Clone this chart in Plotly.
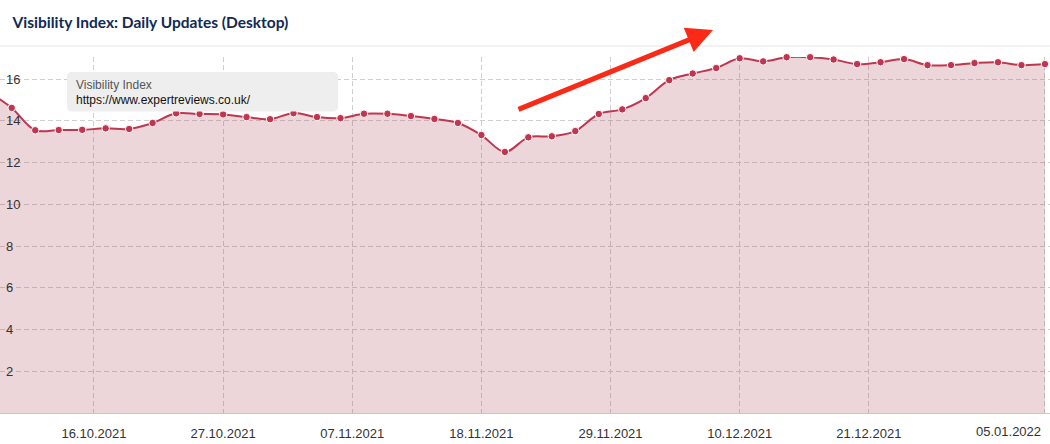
import plotly.graph_objects as go

# ---------------- data ----------------
dates = [
    "2021-10-07", "2021-10-09", "2021-10-11", "2021-10-13", "2021-10-15", "2021-10-17",
    "2021-10-19", "2021-10-21", "2021-10-23", "2021-10-25", "2021-10-27", "2021-10-29",
    "2021-10-31", "2021-11-02", "2021-11-04", "2021-11-06", "2021-11-08", "2021-11-10",
    "2021-11-12", "2021-11-14", "2021-11-16", "2021-11-18", "2021-11-20", "2021-11-22",
    "2021-11-24", "2021-11-26", "2021-11-28", "2021-11-30", "2021-12-02", "2021-12-04",
    "2021-12-06", "2021-12-08", "2021-12-10", "2021-12-12", "2021-12-14", "2021-12-16",
    "2021-12-18", "2021-12-20", "2021-12-22", "2021-12-24", "2021-12-26", "2021-12-28",
    "2021-12-30", "2022-01-01", "2022-01-03", "2022-01-05",
]
visibility = [
    15.40, 14.62, 13.55, 13.56, 13.57, 13.64,
    13.61, 13.90, 14.36, 14.33, 14.31, 14.18,
    14.08, 14.37, 14.18, 14.13, 14.34, 14.34,
    14.23, 14.09, 13.90, 13.32, 12.51, 13.21,
    13.26, 13.51, 14.33, 14.55, 15.09, 15.95,
    16.27, 16.53, 17.00, 16.85, 17.05, 17.05,
    16.94, 16.72, 16.81, 16.96, 16.67, 16.67,
    16.77, 16.81, 16.67, 16.72,
]
tick_dates = ["2021-10-16", "2021-10-27", "2021-11-07", "2021-11-18",
              "2021-11-29", "2021-12-10", "2021-12-21", "2022-01-05"]
tick_labels = ["16.10.2021", "27.10.2021", "07.11.2021", "18.11.2021",
               "29.11.2021", "10.12.2021", "21.12.2021", "05.01.2022"]
y_ticks = [2, 4, 6, 8, 10, 12, 14, 16]

title_text = "Visibility Index: Daily Updates (Desktop)"
legend_title = "Visibility Index"
legend_domain = "https://www.expertreviews.co.uk/"

# ---------------- styling / layout constants ----------------
W, H = 1050, 444
PLOT_TOP, PLOT_BOTTOM = 57, 413
LINE = "#c03550"
FILL = "rgba(169,69,87,0.22)"
GRID = "#cfcfcf"
FONT = "Liberation Sans, Arial, sans-serif"


def px_x(px):
    return px / W


def px_y(py):
    return (PLOT_BOTTOM - py) / (PLOT_BOTTOM - PLOT_TOP)


def rounded_rect(x0, y0, x1, y1, r):
    # pixel box -> paper path with rounded corners
    X = px_x
    Y = px_y
    return (
        f"M {X(x0 + r)} {Y(y0)} L {X(x1 - r)} {Y(y0)} "
        f"Q {X(x1)} {Y(y0)} {X(x1)} {Y(y0 + r)} "
        f"L {X(x1)} {Y(y1 - r)} Q {X(x1)} {Y(y1)} {X(x1 - r)} {Y(y1)} "
        f"L {X(x0 + r)} {Y(y1)} Q {X(x0)} {Y(y1)} {X(x0)} {Y(y1 - r)} "
        f"L {X(x0)} {Y(y0 + r)} Q {X(x0)} {Y(y0)} {X(x0 + r)} {Y(y0)} Z"
    )


fig = go.Figure()
fig.add_trace(go.Scatter(
    x=dates, y=visibility,
    mode="lines+markers",
    line=dict(color=LINE, width=2, shape="spline", smoothing=1),
    marker=dict(size=7.5, color=LINE, line=dict(color="white", width=1)),
    fill="tozeroy", fillcolor=FILL,
    cliponaxis=False, hoverinfo="skip",
))

fig.update_layout(
    width=W, height=H, autosize=False,
    margin=dict(l=0, r=0, t=PLOT_TOP, b=H - PLOT_BOTTOM, pad=0),
    paper_bgcolor="white", plot_bgcolor="white",
    showlegend=False,
    title=dict(
        text=f"<b>{title_text}</b>",
        x=12.5 / W, xref="container", xanchor="left",
        y=1 - 23 / H, yref="container", yanchor="middle",
        font=dict(family="Lato, sans-serif", size=15.5, color="#0f2a55"),
    ),
    xaxis=dict(
        type="date",
        range=["2021-10-08 00:00", "2022-01-05 10:20"],
        tickvals=tick_dates,
        ticktext=tick_labels[:-1] + [""],
        ticks="outside", ticklen=8, tickcolor="rgba(0,0,0,0)",
        tickfont=dict(family=FONT, size=13, color="#333333"),
        showgrid=True, gridcolor=GRID, griddash="5px,3px", gridwidth=1,
        showline=True, linecolor="#d2c3c6", linewidth=1,
        zeroline=False, fixedrange=True,
    ),
    yaxis=dict(
        range=[0, 17.06],
        tickvals=y_ticks,
        ticklabelposition="inside",
        ticklabelstandoff=3,
        ticks="", ticklen=0,
        tickfont=dict(family=FONT, size=13, color="#333333"),
        showgrid=True, gridcolor=GRID, griddash="5px,3px", gridwidth=1,
        showline=False, zeroline=False, fixedrange=True,
    ),
    shapes=[
        dict(type="line", xref="paper", yref="paper",
             x0=0, x1=1, y0=px_y(46), y1=px_y(46),
             line=dict(color="#e6e6e6", width=1.2)),
        dict(type="path", xref="paper", yref="paper",
             path=rounded_rect(67, 72, 338, 111.5, 5),
             fillcolor="#eeeeee", line=dict(width=0), layer="above"),
    ],
    annotations=[
        dict(x=tick_dates[-1], xref="x", y=0, yref="paper",
             text=tick_labels[-1], showarrow=False,
             xanchor="right", yanchor="top", xshift=-2, yshift=-9,
             font=dict(family=FONT, size=13, color="#333333")),
        dict(x=px_x(73.5), xref="paper", y=px_y(84.5), yref="paper",
             text=legend_title, showarrow=False, xanchor="left", yanchor="middle",
             font=dict(family=FONT, size=12, color="#555555")),
        dict(x=px_x(73.5), xref="paper", y=px_y(99.5), yref="paper",
             text=legend_domain, showarrow=False, xanchor="left", yanchor="middle",
             font=dict(family=FONT, size=12, color="#111111")),
        dict(x=px_x(713), xref="paper", y=px_y(30), yref="paper",
             ax=517 - 713, ay=110 - 30, axref="pixel", ayref="pixel",
             text="", showarrow=True, arrowhead=2, arrowsize=1.05,
             arrowwidth=5, arrowcolor="#fb2a17", standoff=0),
    ],
)

fig.write_html("out.html", config={"displayModeBar": False, "staticPlot": True},
               post_script="document.body.style.margin='0';")
